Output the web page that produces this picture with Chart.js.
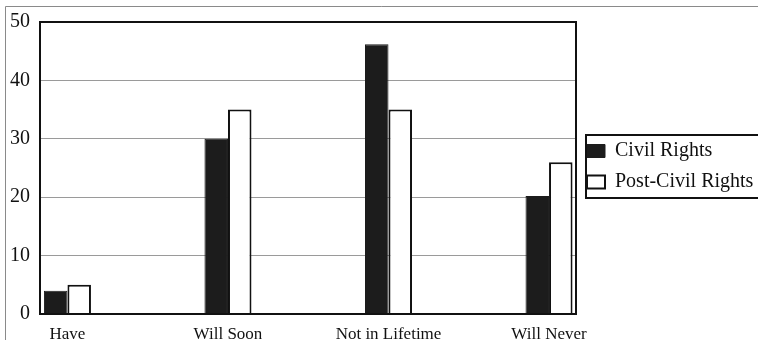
<!DOCTYPE html>
<html>
<head>
<meta charset="utf-8">
<script src="https://cdn.jsdelivr.net/npm/chart.js@4"></script>
<style>
  html, body { margin: 0; padding: 0; background: #fff; }
  #wrap { width: 758px; height: 340px; }
</style>
</head>
<body>
<div id="wrap"><canvas id="chart" width="758" height="340"></canvas></div>
<script>
const categories = ["Have", "Will Soon", "Not in Lifetime", "Will Never"];
const civilRights = [4, 30, 46.2, 20.2];
const postCivilRights = [5, 35, 35, 26];
const yTicks = [0, 10, 20, 30, 40, 50];

const serif = "'Liberation Serif', 'Times New Roman', serif";

// turn the arrays into x/y points, x is the category index
function toPoints(values) {
    return values.map((v, i) => ({ x: i, y: v }));
}

// plot box, outer frame and legend box
const framePlugin = {
    id: "frame",
    afterLayout(chart) {
        // legend sits centred on the plot, not on the whole canvas
        chart.legend.top -= 13;
        chart.legend.bottom -= 13;
    },
    beforeDraw(chart) {
        const ctx = chart.ctx;
        ctx.save();
        ctx.fillStyle = "#fff";
        ctx.fillRect(0, 0, chart.width, chart.height);
        ctx.strokeStyle = "#8a8a8a";
        ctx.lineWidth = 1;
        ctx.beginPath();
        ctx.moveTo(5.5, chart.height);
        ctx.lineTo(5.5, 6.5);
        ctx.lineTo(chart.width, 6.5);
        ctx.stroke();
        ctx.restore();
    },
    afterDraw(chart) {
        const ctx = chart.ctx;
        const a = chart.chartArea;
        ctx.save();
        ctx.strokeStyle = "#111";
        ctx.lineWidth = 2;
        ctx.strokeRect(a.left, a.top, a.right - a.left, a.bottom - a.top);
        const lg = chart.legend;
        if (lg && lg.columnSizes && lg.columnSizes.length) {
            const pad = lg.options.labels.padding;
            const colH = lg.columnSizes[0].height;
            const y0 = (lg.top + pad + lg.bottom - colH) / 2;
            const itemH = lg.legendHitBoxes[0].height;
            const n = lg.legendHitBoxes.length;
            const top = y0 - 6;
            const bottom = y0 + n * itemH + (n - 1) * pad + 6;
            ctx.strokeRect(lg.left + 10, top, chart.width, bottom - top);
        }
        ctx.restore();
    }
};

new Chart(document.getElementById("chart"), {
    type: "bar",
    data: {
        datasets: [{
            label: "Civil Rights",
            data: toPoints(civilRights),
            backgroundColor: "#1c1c1c",
            borderColor: "#1c1c1c",
            borderWidth: 1
        }, {
            label: "Post-Civil Rights",
            data: toPoints(postCivilRights),
            backgroundColor: "#ffffff",
            borderColor: "#111",
            borderWidth: 2
        }]
    },
    options: {
        responsive: false,
        animation: false,
        layout: { padding: { top: 19, left: 0, right: 0, bottom: 0 } },
        datasets: {
            bar: { barPercentage: 1, categoryPercentage: 0.293, grouped: true }
        },
        plugins: {
            legend: {
                position: "right",
                maxWidth: 182,
                labels: {
                    font: { family: serif, size: 20 },
                    color: "#111",
                    boxWidth: 18,
                    boxHeight: 13,
                    padding: 11
                }
            },
            tooltip: { enabled: false }
        },
        scales: {
            x: {
                type: "linear",
                offset: false,
                min: -0.171,
                max: 3.168,
                grid: { display: false },
                border: { display: false },
                afterBuildTicks(scale) {
                    scale.ticks = categories.map((c, i) => ({ value: i }));
                },
                afterFit(scale) { scale.height = 26; },
                ticks: {
                    autoSkip: false,
                    maxRotation: 0,
                    padding: 2,
                    color: "#111",
                    font: { family: serif, size: 17 },
                    callback: (v) => categories[v]
                }
            },
            y: {
                min: 0,
                max: 50,
                afterBuildTicks(scale) {
                    scale.ticks = yTicks.map(v => ({ value: v }));
                },
                afterFit(scale) { scale.width = 40; },
                grid: { color: "#9a9a9a", lineWidth: 1, drawTicks: false },
                border: { display: false },
                ticks: {
                    padding: 10,
                    color: "#111",
                    font: { family: serif, size: 20 }
                }
            }
        }
    },
    plugins: [framePlugin]
});
</script>
</body>
</html>
